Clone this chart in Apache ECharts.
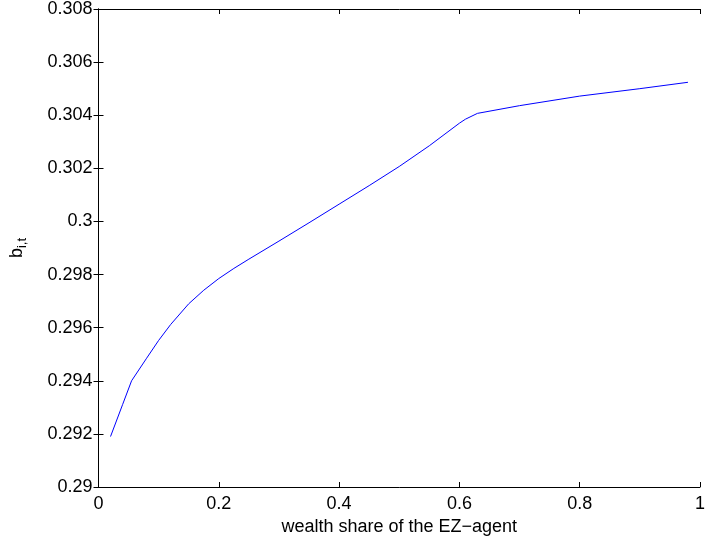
<!doctype html>
<html>
<head>
  <meta charset="utf-8">
  <script src="https://cdn.jsdelivr.net/npm/echarts@6/dist/echarts.min.js"></script>
  <style>
    html, body { margin: 0; padding: 0; background: #fff; }
    #chart { width: 708px; height: 541px; }
  </style>
</head>
<body>
  <div id="chart"></div>
  <script type="text/javascript">
    // wealth share (x) and b_{i,t} (y)
    var shares = [0.02, 0.04, 0.055, 0.08, 0.10, 0.12, 0.15, 0.175, 0.20, 0.225, 0.25, 0.30, 0.35, 0.40,
                  0.45, 0.50, 0.55, 0.60, 0.61, 0.63, 0.70, 0.80, 0.90, 0.98];
    var bValues = [0.2919, 0.2931, 0.2940, 0.29485, 0.29552, 0.29612, 0.29690, 0.29741, 0.29785, 0.29823, 0.29858, 0.29926,
                   0.29995, 0.30065, 0.30135, 0.30207, 0.30285, 0.30370, 0.30385, 0.30407, 0.30436, 0.30472, 0.30500, 0.30524];

    var lineData = shares.map(function (s, i) { return [s, bValues[i]]; });

    var fontFam = '"Liberation Sans", Arial, sans-serif';
    var axisLineStyle = { color: '#000', width: 1 };

    var myChart = echarts.init(document.getElementById('chart'));

    var option = {
      animation: false,
      backgroundColor: '#fff',
      grid: { left: 98, right: 3, top: 7, bottom: 54 },
      xAxis: [
        {
          type: 'value', min: 0, max: 1, interval: 0.2,
          position: 'bottom',
          name: 'wealth share of the EZ\u2212agent',
          nameLocation: 'middle', nameGap: 25,
          nameTextStyle: { fontFamily: fontFam, fontSize: 18, color: '#000' },
          axisLine: { show: true, lineStyle: axisLineStyle },
          axisTick: { show: true, inside: true, length: 5, lineStyle: axisLineStyle },
          axisLabel: { fontFamily: fontFam, fontSize: 18, color: '#000', margin: 8 },
          splitLine: { show: false }
        },
        {
          type: 'value', min: 0, max: 1, interval: 0.2,
          position: 'top',
          axisLine: { show: true, lineStyle: axisLineStyle },
          axisTick: { show: true, inside: true, length: 5, lineStyle: axisLineStyle },
          axisLabel: { show: false },
          splitLine: { show: false }
        }
      ],
      yAxis: [
        {
          type: 'value', min: 0.29, max: 0.308, interval: 0.002,
          position: 'left',
          name: '{b|b}{s|i,t}',
          nameLocation: 'middle', nameGap: 70, nameRotate: 90,
          nameTextStyle: {
            rich: {
              b: { fontFamily: fontFam, fontSize: 18, color: '#000' },
              s: { fontFamily: fontFam, fontSize: 13, color: '#000', padding: [10, 0, 0, 0] }
            }
          },
          axisLine: { show: true, lineStyle: axisLineStyle },
          axisTick: { show: true, inside: true, length: 5, lineStyle: axisLineStyle },
          axisLabel: { fontFamily: fontFam, fontSize: 18, color: '#000', margin: 6 },
          splitLine: { show: false }
        },
        {
          type: 'value', min: 0.29, max: 0.308, interval: 0.002,
          position: 'right',
          axisLine: { show: true, lineStyle: axisLineStyle },
          axisTick: { show: true, inside: true, length: 5, lineStyle: axisLineStyle },
          axisLabel: { show: false },
          splitLine: { show: false }
        }
      ],
      series: [
        {
          type: 'line',
          data: lineData,
          smooth: false,
          showSymbol: false,
          lineStyle: { color: '#0000ff', width: 1 }
        }
      ]
    };

    myChart.setOption(option);
  </script>
</body>
</html>
